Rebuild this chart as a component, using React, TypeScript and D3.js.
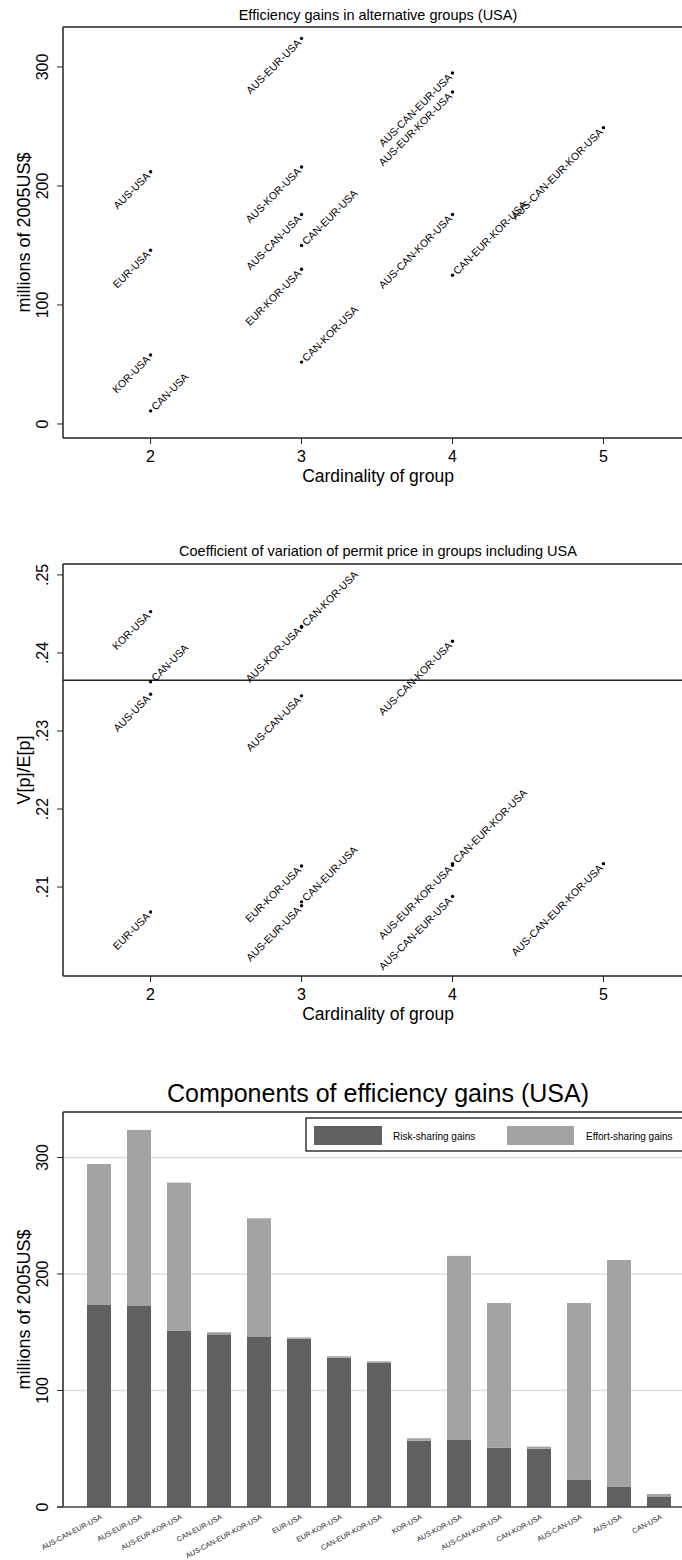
import React from "react";
import * as d3 from "d3";

const FONT = '"Liberation Sans", Arial, Helvetica, sans-serif';

// groups shown in the two scatter panels
const groups = [
  "AUS-USA", "EUR-USA", "KOR-USA", "CAN-USA",
  "AUS-EUR-USA", "AUS-KOR-USA", "AUS-CAN-USA", "CAN-EUR-USA", "EUR-KOR-USA", "CAN-KOR-USA",
  "AUS-CAN-EUR-USA", "AUS-EUR-KOR-USA", "AUS-CAN-KOR-USA", "CAN-EUR-KOR-USA",
  "AUS-CAN-EUR-KOR-USA",
];
// efficiency gains, millions of 2005US$
const gains = [212, 146, 58, 11, 324, 216, 176, 150, 130, 52, 295, 279, 176, 125, 249];
// coefficient of variation of the permit price
const cv = [
  0.2347, 0.2068, 0.2453, 0.2363,
  0.2076, 0.2434, 0.2345, 0.2081, 0.2127, 0.2433,
  0.2088, 0.2128, 0.2415, 0.213,
  0.213,
];
const cvReference = 0.2365;
const cardinalityTicks = [2, 3, 4, 5];
const gainTicks = [0, 100, 200, 300];
const cvTicks = [0.21, 0.22, 0.23, 0.24, 0.25];

// bar chart, sorted by risk-sharing gains
const barGroups = [
  "AUS-CAN-EUR-USA", "AUS-EUR-USA", "AUS-EUR-KOR-USA", "CAN-EUR-USA", "AUS-CAN-EUR-KOR-USA",
  "EUR-USA", "EUR-KOR-USA", "CAN-EUR-KOR-USA", "KOR-USA", "AUS-KOR-USA",
  "AUS-CAN-KOR-USA", "CAN-KOR-USA", "AUS-CAN-USA", "AUS-USA", "CAN-USA",
];
const riskSharing = [173.4, 172.5, 151.1, 148.2, 145.9, 144.5, 128.2, 123.6, 56.9, 57.5, 50.9, 50, 23.2, 17.2, 8.6];
const effortSharing = [121, 151.1, 127.3, 1.8, 101.9, 1.1, 1.2, 1.4, 2.1, 158, 124.2, 1.8, 151.9, 194.8, 2.6];
const barKeys = ["Risk-sharing gains", "Effort-sharing gains"];
const barColors = ["#606060", "#a3a3a3"];

const W = 682;
const LEFT = 63;
const CENTER = 378;
const AXIS = "#222";

const x = d3.scaleLinear().domain([1.42, 5.52]).range([LEFT, W]);

type Panel = {
  title: string;
  titleY: number;
  top: number;
  bottom: number;
  domain: [number, number];
  ticks: number[];
  fmt: (d: number) => string;
  values: number[];
  yTitle: string;
  refLine?: number;
};

const Scatter = (p: Panel) => {
  const y = d3.scaleLinear().domain(p.domain).range([p.bottom, p.top]);
  const mid = (p.top + p.bottom) / 2;
  return (
    <g>
      <text x={CENTER} y={p.titleY} textAnchor="middle" fontSize={14.5}>
        {p.title}
      </text>
      <line x1={LEFT} x2={W} y1={p.top} y2={p.top} stroke={AXIS} strokeWidth={1.5} />
      <line x1={LEFT} x2={LEFT} y1={p.top} y2={p.bottom} stroke={AXIS} strokeWidth={1.5} />
      <line x1={LEFT} x2={W} y1={p.bottom} y2={p.bottom} stroke={AXIS} strokeWidth={1.5} />
      {p.ticks.map((t) => (
        <g key={t}>
          <line x1={LEFT - 6} x2={LEFT} y1={y(t)} y2={y(t)} stroke={AXIS} />
          <text transform={`translate(48,${y(t)}) rotate(-90)`} textAnchor="middle" fontSize={16}>
            {p.fmt(t)}
          </text>
        </g>
      ))}
      <text transform={`translate(30,${mid}) rotate(-90)`} textAnchor="middle" fontSize={18}>
        {p.yTitle}
      </text>
      {cardinalityTicks.map((t) => (
        <g key={t}>
          <line x1={x(t)} x2={x(t)} y1={p.bottom} y2={p.bottom + 6} stroke={AXIS} />
          <text x={x(t)} y={p.bottom + 24} textAnchor="middle" fontSize={16}>
            {t}
          </text>
        </g>
      ))}
      <text x={CENTER} y={p.bottom + 44} textAnchor="middle" fontSize={17.5}>
        Cardinality of group
      </text>
      {p.refLine !== undefined && (
        <line x1={LEFT} x2={W} y1={y(p.refLine)} y2={y(p.refLine)} stroke={AXIS} strokeWidth={1.3} />
      )}
      {groups.map((g, i) => {
        const px = x(g.split("-").length);
        const py = y(p.values[i]);
        const right = g.startsWith("CAN");
        return (
          <g key={g} transform={`translate(${px},${py})`}>
            <circle r={1.7} fill="#000" />
            <text
              transform="rotate(-45)"
              x={right ? 3.5 : -3.5}
              dy="0.35em"
              textAnchor={right ? "start" : "end"}
              fontSize={10.5}
            >
              {g}
            </text>
          </g>
        );
      })}
    </g>
  );
};

const Bars = () => {
  const top = 1112;
  const bottom = 1507;
  const y = d3.scaleLinear().domain([0, 339]).range([bottom, top]);
  const xb = d3.scaleBand().domain(barGroups).range([79, 679]).paddingInner(0.4).paddingOuter(0.2);
  const rows = barGroups.map((g, i) => ({ group: g, risk: riskSharing[i], effort: effortSharing[i] }));
  const series = d3.stack<any>().keys(["risk", "effort"])(rows);
  return (
    <g>
      <text x={CENTER} y={1102} textAnchor="middle" fontSize={25}>
        Components of efficiency gains (USA)
      </text>
      {gainTicks.map((t) => (
        <g key={t}>
          {t > 0 && <line x1={LEFT} x2={W} y1={y(t)} y2={y(t)} stroke="#dcdcdc" strokeWidth={1.5} />}
          <line x1={LEFT - 6} x2={LEFT} y1={y(t)} y2={y(t)} stroke={AXIS} />
          <text transform={`translate(48,${y(t)}) rotate(-90)`} textAnchor="middle" fontSize={16}>
            {t}
          </text>
        </g>
      ))}
      <text transform={`translate(30,${(top + bottom) / 2}) rotate(-90)`} textAnchor="middle" fontSize={18}>
        millions of 2005US$
      </text>
      {series.map((s, k) =>
        s.map((d) => (
          <rect
            key={`${k}-${d.data.group}`}
            x={xb(d.data.group)}
            width={xb.bandwidth()}
            y={y(d[1])}
            height={y(d[0]) - y(d[1])}
            fill={barColors[k]}
          />
        ))
      )}
      <line x1={LEFT} x2={W} y1={top} y2={top} stroke={AXIS} strokeWidth={1.5} />
      <line x1={LEFT} x2={LEFT} y1={top} y2={bottom} stroke={AXIS} strokeWidth={1.5} />
      <line x1={LEFT - 6} x2={W} y1={bottom} y2={bottom} stroke="#444" strokeWidth={1.5} />
      {barGroups.map((g) => (
        <text
          key={g}
          transform={`translate(${(xb(g) as number) + xb.bandwidth() / 2 + 1},${bottom + 7}) rotate(-28)`}
          dy="0.72em"
          textAnchor="end"
          fontSize={7.2}
          fill="#222"
        >
          {g}
        </text>
      ))}
      <g>
        <rect x={306} y={1118} width={400} height={33} fill="#fff" stroke="#000" strokeWidth={1.2} />
        <rect x={314} y={1126} width={68} height={19} fill={barColors[0]} />
        <text x={393} y={1139.5} fontSize={10}>
          {barKeys[0]}
        </text>
        <rect x={507} y={1126} width={67} height={19} fill={barColors[1]} />
        <text x={586} y={1139.5} fontSize={10}>
          {barKeys[1]}
        </text>
      </g>
    </g>
  );
};

const fmtCv = (d: number) => d.toFixed(2).replace(/^0/, "");

export default function App() {
  return (
    <div style={{ position: "absolute", left: 0, top: 0 }}>
      <svg width={W} height={1560} style={{ display: "block", background: "#fff", fontFamily: FONT }}>
        <Scatter
          title="Efficiency gains in alternative groups (USA)"
          titleY={20}
          top={27}
          bottom={438}
          domain={[-11.8, 333.6]}
          ticks={gainTicks}
          fmt={(d) => String(d)}
          values={gains}
          yTitle="millions of 2005US$"
        />
        <Scatter
          title="Coefficient of variation of permit price in groups including USA"
          titleY={556}
          top={564}
          bottom={976}
          domain={[0.1986, 0.2514]}
          ticks={cvTicks}
          fmt={fmtCv}
          values={cv}
          yTitle="V[p]/E[p]"
          refLine={cvReference}
        />
        <Bars />
      </svg>
    </div>
  );
}
